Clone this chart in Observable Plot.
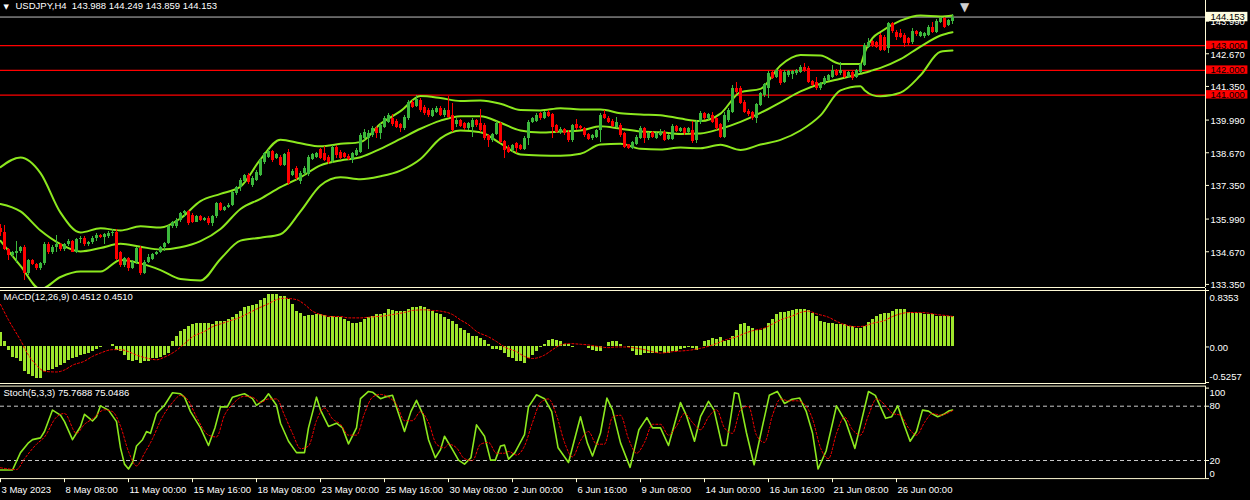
<!DOCTYPE html>
<html><head><meta charset="utf-8">
<script src="https://cdn.jsdelivr.net/npm/d3@7"></script>
<script src="https://cdn.jsdelivr.net/npm/@observablehq/plot@0.6"></script>
<style>
html,body{margin:0;padding:0;background:#000;width:1250px;height:500px;overflow:hidden}
#chart svg{display:block}
</style></head><body><div id="chart"></div>
<script>
// ---------- DATA ----------
const symbolTitle = "USDJPY,H4  143.988 144.249 143.859 144.153";
const opens = [135.62,135.44,134.76,134.52,134.60,134.70,134.85,133.78,134.30,134.15,
133.98,134.20,134.98,134.62,134.85,134.95,134.75,134.95,135.08,134.66,
135.15,135.22,134.95,135.05,135.22,135.32,135.25,135.30,135.40,135.45,
134.65,134.12,134.38,133.98,134.25,134.80,133.78,134.25,134.35,134.55,
134.65,134.85,135.00,135.70,135.70,135.95,136.20,136.30,136.13,135.86,
136.10,135.95,136.02,135.80,136.10,136.60,136.35,136.45,136.55,137.01,
137.28,137.50,137.75,137.35,137.55,137.75,138.29,138.49,138.72,138.43,
138.49,138.16,138.70,137.75,138.02,137.49,137.82,137.78,138.40,138.49,
138.80,138.63,138.49,138.32,138.90,138.70,138.63,138.53,138.36,138.56,
138.70,139.24,139.24,139.37,139.66,139.43,139.70,139.91,140.07,139.93,
139.80,139.64,140.04,140.71,140.55,140.78,140.51,140.38,140.15,140.31,
140.47,140.18,140.38,140.18,139.80,139.97,139.84,139.64,139.70,139.97,
139.84,139.77,139.37,139.17,139.39,139.84,139.13,138.90,138.76,139.03,
138.96,138.80,139.24,139.91,139.93,140.24,140.04,140.31,140.20,139.77,
139.48,139.61,139.50,139.17,139.80,139.74,139.64,139.39,139.24,139.30,
139.57,140.20,140.07,139.93,139.70,139.77,139.43,138.99,138.86,138.99,
139.26,139.64,139.24,139.48,139.26,139.37,139.50,139.21,139.21,139.74,
139.53,139.64,139.50,139.57,139.17,139.88,140.24,140.04,140.18,140.04,
139.80,139.30,139.97,140.31,141.28,141.28,140.71,140.34,140.28,140.04,
140.58,140.98,141.28,141.90,141.72,141.95,141.50,141.79,141.82,141.86,
141.93,142.13,142.09,141.55,141.52,141.25,141.42,141.59,141.72,141.99,
141.86,141.95,141.72,141.90,141.72,141.93,142.20,142.94,143.16,143.11,
143.41,143.34,142.87,143.88,143.54,143.48,143.41,143.27,143.11,143.57,
143.38,143.38,143.41,143.74,143.54,143.95,144.08,143.81,143.988];
const highs = [135.78,135.73,134.80,134.70,135.07,134.90,134.92,134.35,134.35,134.20,
134.25,135.05,135.05,134.92,135.32,135.00,135.00,135.15,135.12,135.20,
135.30,135.28,135.10,135.30,135.40,135.38,135.42,135.50,135.55,135.55,
134.70,134.45,134.42,134.30,134.85,134.90,134.30,134.55,134.60,134.70,
134.90,135.05,135.75,135.90,136.00,136.25,136.35,136.35,136.20,136.15,
136.15,136.05,136.10,136.15,136.65,136.65,136.50,136.60,137.10,137.30,
137.62,137.80,137.85,137.70,137.95,138.45,138.70,138.80,138.78,138.65,
138.55,138.65,138.80,138.00,138.10,137.90,138.10,138.55,138.65,138.70,
138.85,138.93,138.55,138.95,138.95,138.75,138.70,138.58,138.70,138.85,
139.45,139.60,139.55,139.72,139.75,139.85,140.12,140.25,140.20,140.00,
139.85,140.18,140.80,140.80,140.99,140.85,140.58,140.45,140.45,140.55,
140.52,140.45,140.96,140.65,140.05,140.02,139.90,139.90,140.05,140.02,
140.42,139.85,139.40,139.45,139.92,139.90,139.18,138.95,139.02,139.08,
139.00,139.32,139.98,140.10,140.25,140.30,140.35,140.38,140.25,139.82,
139.68,139.66,139.55,139.82,140.01,139.78,139.70,139.45,139.42,139.62,
140.25,140.38,140.12,140.00,140.10,139.85,139.50,139.02,139.12,139.35,
139.72,139.70,139.50,139.52,139.50,139.62,139.56,139.42,139.80,139.78,
139.70,139.68,139.68,139.93,139.98,140.35,140.28,140.25,140.30,140.10,
139.85,140.30,140.45,141.39,141.50,141.35,140.78,140.40,140.33,140.68,
141.12,141.48,141.95,141.96,142.05,142.02,141.99,142.00,142.00,142.05,
142.20,142.27,142.15,141.60,141.72,141.50,141.74,141.85,142.20,142.05,
142.33,142.00,141.95,141.95,142.05,142.28,143.08,143.27,143.22,143.18,
143.48,143.40,143.95,143.95,143.60,143.65,143.47,143.32,143.70,143.62,
143.57,143.53,143.80,143.92,144.04,144.15,144.12,144.06,144.249];
const lows = [135.30,134.72,134.31,134.45,134.18,134.60,133.50,133.70,134.10,133.90,
133.90,134.10,134.55,134.55,134.65,134.70,134.70,134.90,134.62,134.60,
135.00,134.90,134.90,134.95,135.10,135.20,134.95,135.20,135.30,134.30,
134.05,134.05,133.87,133.95,134.15,133.70,133.75,134.20,134.30,134.50,
134.60,134.70,134.95,135.60,135.60,135.85,136.05,135.75,135.80,135.85,
135.90,135.90,135.75,135.70,136.00,136.30,136.30,136.40,136.50,136.95,
137.10,137.45,137.40,137.28,137.50,137.70,138.20,138.45,138.26,138.38,
138.10,138.10,137.35,137.70,137.55,137.40,137.75,137.70,138.35,138.45,
138.40,138.30,138.20,138.25,138.45,138.40,138.45,138.35,138.25,138.50,
138.62,139.15,138.80,139.30,139.24,139.20,139.65,139.85,139.75,139.65,
139.48,139.58,139.98,140.45,140.50,140.30,140.18,140.10,140.10,140.25,
140.12,140.10,140.05,139.50,139.70,139.68,139.55,139.58,139.30,139.70,
139.50,139.15,138.90,139.10,139.35,139.05,138.43,138.62,138.70,138.63,
138.75,138.75,138.96,139.85,139.88,139.98,140.00,140.10,139.24,139.45,
139.42,139.38,139.10,139.10,139.58,139.58,139.30,139.15,139.18,139.25,
139.10,140.00,139.85,139.68,139.65,139.30,138.85,138.80,138.80,138.95,
139.20,139.03,139.18,139.25,139.20,139.32,139.12,139.15,139.15,139.48,
139.48,139.38,139.45,139.05,139.05,139.82,139.98,139.98,139.85,139.58,
139.25,139.25,139.90,140.25,141.02,140.60,140.25,140.15,139.98,139.84,
140.52,140.92,140.88,141.62,141.66,141.40,141.45,141.72,141.63,141.80,
141.88,141.93,141.45,141.33,141.20,141.20,141.38,141.55,141.68,141.74,
141.80,141.68,141.68,141.60,141.68,141.88,142.15,142.88,142.92,142.88,
142.75,142.75,142.67,143.50,143.21,143.28,142.94,143.00,143.05,143.38,
143.33,143.30,143.36,143.48,143.48,143.90,143.68,143.76,143.859];
const closes = [135.44,134.76,134.52,134.64,134.70,134.85,133.78,134.30,134.15,133.98,
134.20,134.98,134.62,134.85,134.95,134.75,134.95,135.08,134.66,135.15,
135.22,134.95,135.05,135.22,135.32,135.25,135.35,135.40,135.45,134.35,
134.12,134.38,133.98,134.25,134.80,133.78,134.25,134.45,134.55,134.65,
134.85,135.00,135.70,135.85,135.95,136.20,136.30,135.80,135.86,136.10,
135.95,136.02,135.80,136.10,136.60,136.35,136.45,136.55,137.05,137.28,
137.55,137.75,137.46,137.64,137.86,138.36,138.63,138.72,138.36,138.59,
138.16,138.59,137.41,137.91,137.62,137.82,138.05,138.49,138.59,138.63,
138.43,138.36,138.29,138.90,138.56,138.45,138.49,138.40,138.63,138.76,
139.37,139.50,139.44,139.64,139.43,139.77,140.04,140.18,139.80,139.70,
139.64,140.11,140.71,140.51,140.82,140.38,140.24,140.18,140.38,140.47,
140.18,140.38,140.11,139.57,139.97,139.74,139.64,139.84,139.97,139.77,
139.57,139.24,139.17,139.39,139.84,139.10,138.76,138.69,138.96,138.83,
138.80,139.26,139.91,140.04,140.18,140.04,140.28,140.15,139.70,139.50,
139.61,139.43,139.17,139.77,139.64,139.64,139.37,139.21,139.37,139.57,
140.18,140.07,139.91,139.74,139.91,139.37,138.90,138.86,139.07,139.30,
139.66,139.24,139.43,139.30,139.43,139.50,139.17,139.37,139.74,139.53,
139.64,139.43,139.64,139.13,139.91,140.24,140.04,140.20,139.91,139.64,
139.30,140.18,140.38,141.25,141.09,140.65,140.31,140.20,140.04,140.61,
141.05,141.41,141.86,141.68,141.99,141.45,141.93,141.95,141.95,141.99,
142.13,141.99,141.52,141.39,141.25,141.45,141.68,141.79,141.99,141.79,
141.99,141.72,141.90,141.66,141.99,142.22,143.00,143.14,142.98,142.94,
142.80,142.80,143.88,143.57,143.34,143.34,143.07,143.07,143.57,143.43,
143.52,143.48,143.74,143.54,143.97,144.08,143.74,144.01,144.153];

// Bollinger bands at these bar positions
const bbBar = [0,5,10,15,20,25,30,35,40,45,50,55,60,65,70,75,80,85,90,95,100,105,110,115,120,125,130,135,140,145,150,155,160,165,170,175,180,185,190,195,200,205,210,215,216,218,220,225,230,235,238];
const bbUpper = [138.09,138.48,137.85,136.25,135.45,135.62,135.53,135.70,135.65,136.02,136.72,137.01,137.30,138.40,139.20,139.05,138.93,139.03,139.10,139.84,140.35,140.96,140.88,140.76,140.78,140.65,140.40,140.38,140.47,140.42,140.42,140.27,140.22,140.19,140.05,139.95,140.25,141.12,141.25,142.20,142.62,142.60,142.26,142.26,142.70,143.30,143.55,144.01,144.22,144.18,144.22];
const bbMiddle = [136.60,136.30,135.53,134.98,134.68,134.82,134.99,134.87,134.76,134.85,135.10,135.59,136.40,136.81,137.28,137.68,138.16,138.36,138.49,138.83,139.23,139.64,139.97,140.15,140.15,139.88,139.57,139.49,139.53,139.57,139.74,139.64,139.53,139.50,139.43,139.45,139.64,139.92,140.28,140.71,141.15,141.46,141.66,141.86,141.90,142.00,142.10,142.45,142.96,143.41,143.54];
const bbLower = [135.11,134.10,133.16,133.65,133.87,133.87,134.34,134.20,133.93,133.57,133.51,134.38,135.12,135.24,135.38,136.30,137.35,137.68,137.60,137.72,137.95,138.42,139.25,139.57,139.50,139.05,138.60,138.56,138.55,138.63,139.00,139.03,138.83,138.80,138.88,138.85,138.99,138.78,139.00,139.19,139.57,140.18,141.19,141.36,141.20,141.00,140.95,141.10,141.80,142.75,142.80];

// horizontal levels and price-axis labels
const levels = [143, 142, 141];
const bid = 144.153;
const priceTicks = [143.990,142.670,141.350,139.990,138.670,137.350,135.990,134.670,133.350];
const priceDomain = [133.226, 144.822];

// MACD(12,26,9)
const macdTitle = "MACD(12,26,9) 0.4512 0.4510";
const macdHist = [0.21,0.08,-0.05,-0.15,-0.17,-0.22,-0.37,-0.40,-0.43,-0.47,
-0.47,-0.37,-0.35,-0.34,-0.31,-0.27,-0.24,-0.20,-0.17,-0.15,
-0.12,-0.11,-0.09,-0.06,-0.04,-0.01,0.01,0.01,0.03,-0.05,
-0.07,-0.12,-0.20,-0.21,-0.20,-0.24,-0.22,-0.21,-0.17,-0.17,
-0.15,-0.12,-0.09,0.08,0.15,0.23,0.26,0.30,0.33,0.34,
0.34,0.34,0.34,0.33,0.37,0.38,0.38,0.40,0.43,0.48,
0.53,0.58,0.60,0.62,0.63,0.68,0.71,0.78,0.78,0.78,
0.74,0.75,0.70,0.63,0.53,0.49,0.45,0.46,0.46,0.48,
0.48,0.46,0.44,0.45,0.43,0.44,0.41,0.38,0.35,0.35,
0.36,0.40,0.43,0.45,0.48,0.48,0.49,0.55,0.54,0.53,
0.53,0.53,0.55,0.58,0.59,0.60,0.58,0.55,0.53,0.50,
0.48,0.44,0.40,0.38,0.33,0.28,0.24,0.20,0.16,0.15,
0.13,0.10,0.04,-0.04,-0.04,-0.05,-0.09,-0.15,-0.17,-0.21,
-0.22,-0.25,-0.17,-0.12,-0.07,-0.01,0.03,0.09,0.11,0.09,
0.08,0.04,0.03,-0.01,0.01,0.01,0.01,-0.02,-0.05,-0.06,
-0.06,0.01,0.06,0.08,0.08,0.04,0.01,-0.01,-0.07,-0.12,
-0.12,-0.09,-0.10,-0.09,-0.09,-0.07,-0.09,-0.09,-0.07,-0.06,
-0.04,-0.02,-0.01,-0.02,-0.05,0.01,0.08,0.10,0.13,0.11,
0.14,0.08,0.10,0.15,0.25,0.33,0.34,0.31,0.28,0.25,
0.25,0.28,0.34,0.41,0.48,0.51,0.51,0.53,0.54,0.55,
0.55,0.55,0.54,0.50,0.45,0.38,0.36,0.34,0.34,0.33,
0.33,0.33,0.31,0.31,0.28,0.28,0.31,0.36,0.41,0.45,
0.48,0.49,0.49,0.53,0.56,0.56,0.56,0.51,0.49,0.49,
0.49,0.48,0.48,0.48,0.45,0.45,0.45,0.45,0.4512];
const macdSigBar = [0,2,5,7,9,11,14,16,18,21,23,25,28,30,32,34,37,39,41,44,46,48,51,53,55,57,60,62,64,67,69,71,74,76,78,80,83,85,87,90,92,94,96,99,101,103,106,108,110,113,115,117,119,122,124,126,129,131,133,136,138,140,142,145,147,149,152,154,156,158,161,163,165,168,170,172,175,177,179,181,184,186,188,191,193,195,198,200,202,204,207,209,211,214,216,218,221,223,225,227,230,232,234,237,238];
const macdSig = [0.63,0.40,0.10,-0.12,-0.27,-0.36,-0.37,-0.34,-0.27,-0.21,
-0.14,-0.09,-0.04,-0.04,-0.07,-0.12,-0.17,-0.19,-0.15,-0.05,
0.05,0.15,0.23,0.30,0.34,0.38,0.44,0.50,0.56,0.64,
0.70,0.72,0.70,0.63,0.53,0.48,0.45,0.45,0.43,0.43,
0.44,0.45,0.46,0.49,0.51,0.54,0.55,0.54,0.53,0.48,
0.40,0.33,0.23,0.15,0.08,0.00,-0.07,-0.14,-0.17,-0.12,
-0.04,0.03,0.05,0.04,0.03,0.01,-0.01,0.00,0.00,-0.01,
-0.04,-0.07,-0.09,-0.07,-0.06,-0.05,-0.02,0.01,0.05,0.10,
0.15,0.20,0.24,0.28,0.34,0.40,0.46,0.51,0.53,0.49,
0.44,0.38,0.33,0.30,0.31,0.35,0.39,0.45,0.49,0.51,
0.51,0.50,0.48,0.46,0.451];
const macdDomain = [-0.5257, 0.8353];
const macdTicks = [0.8353, 0, -0.5257];
const macdTickText = ["0.8353", "0.00", "-0.5257"];

// Stochastic(5,3,3)
const stochTitle = "Stoch(5,3,3) 75.7688 75.0486";
const stochBar = [0,3,5,7,8,10,11,13,15,16,18,20,21,23,24,25,27,29,30,31,32,33,34,35.5,36.5,37.5,39,41,43,45,46,47.5,50,52,53.6,55,56.7,58,60,61,63,64,66,67,69,70,72,74,76,77,79,80,82,84,85.5,87,89,90,92,93,95,96,98,99.5,101,102.6,104,105.7,107,108.7,110,111,113,114.5,116,117.6,119,121,122.5,123.7,125,126,127,128.6,131,132,134,136,137.8,139.4,142,145,146.7,148,150,151.6,153,155,157.4,159.6,161.6,163,165,167,170,171.5,173.5,175,177,178.4,180.4,181.5,183.5,184.5,186.5,188.4,190.4,192.2,194.2,196,197.9,199.8,201.4,203,204.4,206.4,209,211.3,213.6,215,217,218.7,221.3,222.8,224.3,225.9,227.4,229,230.5,232,232.8,234.3,235.8,237,238];
const stochMain = [9.5,9.5,28.7,39.5,43.1,45,52,75.7,70.2,63,
43,57.6,71,63.7,68.4,80.4,75.7,63,34,16,
10.6,17.8,36,43,52,50,72,81,94.8,93.7,
90,74,56,36.6,56,79.3,79.3,90,92.6,93.7,
88.3,81,87.6,93.7,81,61.2,41.3,28.7,28.7,56,
90,75.7,57.6,61.2,56,38.4,56,88.3,96.3,95.5,
88.3,90,92,72,52,74,86.5,70,43,23,
32,46.8,32,20.4,16,23,59.4,46.8,20.4,20.4,
36,37,21.5,28.7,48.6,79.3,92.6,88.3,74,34,
17.8,68.4,39.5,25,50.4,89,75.7,39.5,12.4,54,
67.4,56,56,36.6,84,69.5,41.3,68.4,85.4,75.7,
36.6,36.6,94.8,93.7,50.4,15.3,56,92,96.3,83,
87.6,89,74.6,50.4,10.6,30.5,80.4,63,33.4,59.4,
96.3,92,66.6,68.4,80.4,59.4,41.3,52,75.7,74.6,
72,68.4,71,74.6,75.7688];
const stochSigBar = [0,4,6,9,11,14,16,19,21,23,26,28,30,32,34,36,38,40,43,45,47,49,52,54,56,58,61,63,65,67,69,71,73,75,77,79,81,83,85,87,89,91,93,95,97,99,101,103,105,107,109,111,112,114,116,118,120,122,124,126,127,129,131,133,135,137,139,141,143,145,147,149,151,153,155,157,159,161,163,165,167,169,171,173,175,177,179,181,183,185,187,189,191,193,195,197,199,201,203,205,207,209,211,213,215,217,219,221,223,225,227,229,231,233,235,236,238];
const stochSig = [12,10,22,38,46,68,72,50,60,66,
76,74,58,30,14,28,44,64,84,92,
86,68,48,46,70,82,91,90,84,88,
88,70,50,33,36,64,78,66,60,48,
48,72,90,93,90,82,64,64,74,62,
38,34,38,34,22,20,38,40,28,28,
30,26,36,62,84,88,70,40,24,42,
52,38,38,68,70,44,28,40,60,60,
48,58,72,62,54,68,76,56,50,76,
80,48,40,70,88,86,86,82,66,34,
22,50,68,54,48,70,88,82,72,70,
56,48,62,72,70,71,75.0486];
const stochLevels = [80, 20];
const stochTicks = [100, 80, 20, 0];

// time axis (bar index of each label)
const timeBars = [0,16,32,48,64,80,96,112,128,144,160,176,192,208,224];
const timeLabels = ["3 May 2023","8 May 08:00","11 May 00:00","15 May 16:00","18 May 08:00","23 May 00:00","25 May 16:00","30 May 08:00","2 Jun 00:00","6 Jun 16:00","9 Jun 08:00","14 Jun 00:00","16 Jun 16:00","21 Jun 08:00","26 Jun 00:00"];

// ---------- STYLE ----------
const BG = "#000000", AXIS = "#fffbd6", TXT = "#ffffff";
const LIME = "#8ce81e", HIST = "#9ee62c", UP = "#3cb83c", DN = "#ff0000";
const FONT = "'Liberation Sans', Arial, sans-serif";
const XMAX = 301.25; // bars across 1205 px (4 px per bar)
const CRISP = {shapeRendering: "crispEdges"};

const candles = closes.map((c, i) => ({i, o: opens[i], h: highs[i], l: lows[i], c}));
const upC = candles.filter(d => d.c >= d.o), dnC = candles.filter(d => d.c < d.o);
const bb = bbBar.map((b, k) => ({b, u: bbUpper[k], m: bbMiddle[k], l: bbLower[k]}));
const hist = macdHist.map((v, i) => ({i, v}));
const msig = macdSigBar.map((b, k) => ({b, v: macdSig[k]}));
const st = stochBar.map((b, k) => ({b, v: stochMain[k]}));
const ss = stochSigBar.map((b, k) => ({b, v: stochSig[k]}));

const base = {
  width: 1250, marginLeft: 0, marginRight: 45,
  x: {domain: [0, XMAX], axis: null},
  style: {background: BG, color: TXT, fontFamily: FONT, fontSize: "9.5px", overflow: "visible"}
};
const axisLabel = (values, texts, dy) => Plot.text(values, {x: XMAX, y: d => d, text: (d, i) => texts[i], textAnchor: "start", dx: 4, dy, fill: TXT});

// ---------- PRICE PANEL ----------
const price = Plot.plot({
  ...base, height: 288, marginTop: 0, marginBottom: 1,
  y: {domain: priceDomain, axis: null},
  marks: [
    Plot.ruleY(levels, {stroke: "#ff0000", strokeWidth: 1.2}),
    Plot.ruleY([bid], {stroke: "#c0c0c0", strokeWidth: 1}),
    Plot.line(bb, {x: "b", y: "u", stroke: LIME, strokeWidth: 2, curve: "monotone-x", clip: true}),
    Plot.line(bb, {x: "b", y: "m", stroke: LIME, strokeWidth: 2, curve: "monotone-x", clip: true}),
    Plot.line(bb, {x: "b", y: "l", stroke: LIME, strokeWidth: 2, curve: "monotone-x", clip: true}),
    Plot.ruleX(upC, {x: "i", y1: "l", y2: "h", stroke: UP, strokeWidth: 1, ...CRISP}),
    Plot.ruleX(dnC, {x: "i", y1: "l", y2: "h", stroke: DN, strokeWidth: 1, ...CRISP}),
    Plot.ruleX(upC, {x: "i", y1: "o", y2: "c", stroke: UP, strokeWidth: 3, ...CRISP}),
    Plot.ruleX(dnC, {x: "i", y1: "o", y2: "c", stroke: DN, strokeWidth: 3, ...CRISP}),
    Plot.ruleY([priceDomain[0]], {stroke: AXIS}),
    Plot.ruleX([XMAX], {stroke: AXIS}),
    Plot.ruleY(priceTicks, {x1: XMAX, x2: XMAX + 1, stroke: AXIS}),
    Plot.text(priceTicks, {x: XMAX, y: d => d, text: d => d.toFixed(3), textAnchor: "start", dx: 5, dy: 1, fill: TXT}),
    Plot.rect(levels, {x1: XMAX + 0.25, x2: XMAX + 10.6, y1: d => d - 0.16, y2: d => d + 0.18, fill: "#ff0000"}),
    Plot.text(levels, {x: XMAX, y: d => d, text: d => d.toFixed(3), textAnchor: "start", dx: 5, fill: "#000"}),
    Plot.rect([bid], {x1: XMAX + 0.25, x2: XMAX + 10.6, y1: d => d - 0.19, y2: d => d + 0.19, fill: "#fffde0"}),
    Plot.text([bid], {x: XMAX, y: d => d, text: d => d.toFixed(3), textAnchor: "start", dx: 5, fill: "#000"}),
    Plot.text(["▼"], {frameAnchor: "top-left", dx: 3, dy: 4, text: d => d, fill: TXT, fontFamily: "DejaVu Sans", fontSize: 7}),
    Plot.text([symbolTitle], {frameAnchor: "top-left", dx: 15, dy: 2, text: d => d, textAnchor: "start", lineAnchor: "top", fill: TXT}),
    Plot.text(["▼"], {x: [closes.length + 2], frameAnchor: "top", dy: 2, text: d => d, fill: "#d0d0d0", fontFamily: "DejaVu Sans", fontSize: 12})
  ]
});

// ---------- MACD PANEL ----------
const macd = Plot.plot({
  ...base, height: 96, marginTop: 2, marginBottom: 2,
  y: {domain: macdDomain, axis: null},
  marks: [
    Plot.ruleX(hist, {x: "i", y1: 0, y2: "v", stroke: HIST, strokeWidth: 3, ...CRISP}),
    Plot.line(msig, {x: "b", y: "v", stroke: "#ff0000", strokeWidth: 1, strokeDasharray: "2,2", curve: "monotone-x"}),
    Plot.ruleY([macdDomain[1]], {stroke: AXIS}),
    Plot.ruleY([macdDomain[0]], {stroke: AXIS, dy: 1}),
    Plot.ruleX([XMAX], {stroke: AXIS, insetTop: -2, insetBottom: -2}),
    Plot.ruleY(macdTicks, {x1: XMAX, x2: XMAX + 1, stroke: AXIS}),
    axisLabel([macdTicks[0]], [macdTickText[0]], 7),
    axisLabel([macdTicks[1]], [macdTickText[1]], 1),
    axisLabel([macdTicks[2]], [macdTickText[2]], -6),
    Plot.text([macdTitle], {frameAnchor: "top-left", dx: 3, dy: 3, text: d => d, textAnchor: "start", lineAnchor: "top", fill: TXT})
  ]
});

// ---------- STOCHASTIC PANEL + TIME AXIS ----------
const stoch = Plot.plot({
  ...base, height: 116, marginTop: 3.6, marginBottom: 21.9,
  y: {domain: [0, 100], axis: null},
  marks: [
    Plot.ruleY(stochLevels, {stroke: "#c8c8c8", strokeDasharray: "4,3"}),
    Plot.line(st, {x: "b", y: "v", stroke: LIME, strokeWidth: 1.6}),
    Plot.line(ss, {x: "b", y: "v", stroke: "#ff0000", strokeWidth: 1, strokeDasharray: "2,2", curve: "monotone-x"}),
    Plot.ruleY([100], {stroke: AXIS, dy: -2}),
    Plot.ruleY([0], {stroke: AXIS}),
    Plot.ruleX([XMAX], {stroke: AXIS, insetTop: -2}),
    Plot.ruleY(stochTicks, {x1: XMAX, x2: XMAX + 1, stroke: AXIS}),
    axisLabel([stochTicks[0]], ["100"], 5),
    axisLabel([stochTicks[1], stochTicks[2]], ["80", "20"], 0),
    axisLabel([stochTicks[3]], ["0"], -5),
    Plot.text([stochTitle], {frameAnchor: "top-left", dx: 3, dy: 1, text: d => d, textAnchor: "start", lineAnchor: "top", fill: TXT}),
    Plot.ruleX(timeBars, {x: d => d, y1: 0, y2: -4.5, stroke: AXIS}),
    Plot.text(timeBars, {x: d => d, y: 0, dy: 11, text: (d, i) => timeLabels[i], textAnchor: "start", dx: 1, fill: TXT})
  ]
});

document.getElementById("chart").append(price, macd, stoch);
</script></body></html>
